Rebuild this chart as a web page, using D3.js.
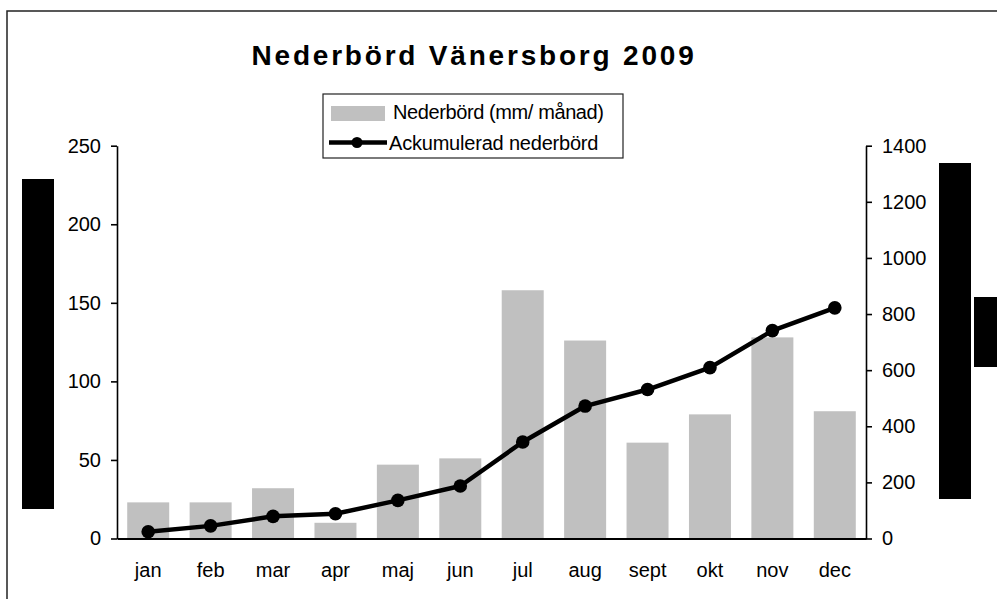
<!DOCTYPE html>
<html>
<head>
<meta charset="utf-8">
<script src="https://cdn.jsdelivr.net/npm/d3@7"></script>
<style>
  body { margin: 0; background: #fff; }
  text { font-family: "Liberation Sans", Arial, sans-serif; fill: #000; }
</style>
</head>
<body>
<div id="plot"></div>
<script>
// values
const months = ["jan", "feb", "mar", "apr", "maj", "jun", "jul", "aug", "sept", "okt", "nov", "dec"];
const rain = [23, 23, 32, 10, 47, 51, 158, 126, 61, 79, 128, 81];          // mm/månad
const accumulated = [24, 45, 79, 88, 136, 187, 344, 472, 531, 609, 741, 822];
const leftTicks = [0, 50, 100, 150, 200, 250];
const rightTicks = [0, 200, 400, 600, 800, 1000, 1200, 1400];

const W = 997, H = 599;
const plot = {left: 117, right: 866, top: 145.7, bottom: 538.5};

const svg = d3.select("#plot").append("svg")
  .attr("width", W)
  .attr("height", H);

// outer chart frame
svg.append("rect")
  .attr("x", 7).attr("y", 11)
  .attr("width", W).attr("height", H)
  .attr("fill", "none")
  .attr("stroke", "#222")
  .attr("stroke-width", 1.5);

const x = d3.scaleBand()
  .domain(months)
  .range([plot.left, plot.right])
  .paddingInner(0.327)
  .paddingOuter(0.1635);

const yL = d3.scaleLinear().domain([0, 250]).range([plot.bottom, plot.top]);
const yR = d3.scaleLinear().domain([0, 1400]).range([plot.bottom, plot.top]);

// bars
svg.append("g").selectAll("rect")
  .data(months)
  .join("rect")
  .attr("x", d => x(d))
  .attr("width", x.bandwidth())
  .attr("y", (d, i) => yL(rain[i]))
  .attr("height", (d, i) => yL(0) - yL(rain[i]))
  .attr("fill", "#c0c0c0");

// axes
const leftAxis = svg.append("g")
  .attr("transform", `translate(${plot.left},0)`)
  .call(d3.axisLeft(yL).tickValues(leftTicks).tickFormat(d3.format("d"))
    .tickSize(6).tickSizeOuter(0).tickPadding(10));

const rightAxis = svg.append("g")
  .attr("transform", `translate(${plot.right},0)`)
  .call(d3.axisRight(yR).tickValues(rightTicks).tickFormat(d3.format("d"))
    .tickSize(6).tickSizeOuter(0).tickPadding(10));

const bottomAxis = svg.append("g")
  .attr("transform", `translate(0,${plot.bottom})`)
  .call(d3.axisBottom(x).tickSize(0).tickSizeOuter(0).tickPadding(24));

[leftAxis, rightAxis, bottomAxis].forEach(a => {
  a.selectAll("path, line").attr("stroke", "#000").attr("stroke-width", 1.6);
  a.selectAll("text").style("font-size", "20px").style("font-family", "'Liberation Sans', Arial, sans-serif").attr("fill", "#000");
});
bottomAxis.select(".domain").attr("stroke-width", 2.2);

// accumulated line
const line = d3.line()
  .x((d, i) => x(months[i]) + x.bandwidth() / 2)
  .y(d => yR(d));

svg.append("path")
  .datum(accumulated)
  .attr("fill", "none")
  .attr("stroke", "#000")
  .attr("stroke-width", 4.5)
  .attr("stroke-linejoin", "round")
  .attr("d", line);

svg.append("g").selectAll("circle")
  .data(accumulated)
  .join("circle")
  .attr("cx", (d, i) => x(months[i]) + x.bandwidth() / 2)
  .attr("cy", d => yR(d))
  .attr("r", 6.8)
  .attr("fill", "#000");

// title
svg.append("text")
  .attr("x", 474)
  .attr("y", 65)
  .attr("text-anchor", "middle")
  .style("font-size", "28px")
  .style("font-weight", "bold")
  .style("letter-spacing", "2.8px")
  .text("Nederbörd Vänersborg 2009");

// legend
const legend = svg.append("g");
legend.append("rect")
  .attr("x", 323).attr("y", 94)
  .attr("width", 300).attr("height", 64)
  .attr("fill", "#fff")
  .attr("stroke", "#222")
  .attr("stroke-width", 1.2);
legend.append("rect")
  .attr("x", 331).attr("y", 106)
  .attr("width", 54).attr("height", 15)
  .attr("fill", "#c0c0c0");
legend.append("text")
  .attr("x", 393).attr("y", 119)
  .style("font-size", "20px")
  .style("letter-spacing", "-0.4px")
  .text("Nederbörd (mm/ månad)");
legend.append("line")
  .attr("x1", 329).attr("x2", 387)
  .attr("y1", 142.5).attr("y2", 142.5)
  .attr("stroke", "#000")
  .attr("stroke-width", 4.5);
legend.append("circle")
  .attr("cx", 357).attr("cy", 142.5).attr("r", 5.5)
  .attr("fill", "#000");
legend.append("text")
  .attr("x", 389).attr("y", 150)
  .style("font-size", "20px")
  .style("letter-spacing", "-0.2px")
  .text("Ackumulerad nederbörd");

// blacked-out axis titles
const blocks = [
  {x: 22, y: 179, w: 32, h: 330},
  {x: 939, y: 163, w: 32, h: 336},
  {x: 974, y: 297, w: 23, h: 70}
];
svg.append("g").selectAll("rect")
  .data(blocks)
  .join("rect")
  .attr("x", d => d.x).attr("y", d => d.y)
  .attr("width", d => d.w).attr("height", d => d.h)
  .attr("fill", "#000");
</script>
</body>
</html>
